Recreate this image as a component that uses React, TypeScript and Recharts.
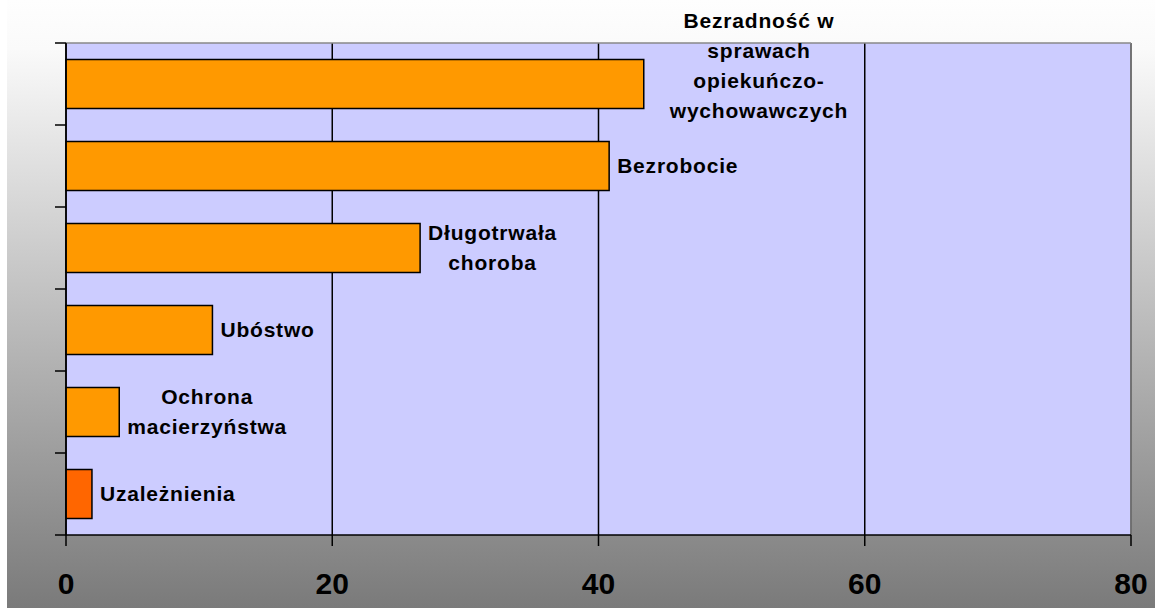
import React from "react";
import {
  Bar,
  BarChart,
  CartesianGrid,
  Cell,
  LabelList,
  ReferenceLine,
  XAxis,
  YAxis,
} from "recharts";

// categories, top → bottom (line breaks as in the original labels)
const CATEGORIES = [
  "Bezradność w\nsprawach\nopiekuńczo-\nwychowawczych",
  "Bezrobocie",
  "Długotrwała\nchoroba",
  "Ubóstwo",
  "Ochrona\nmacierzyństwa",
  "Uzależnienia",
];
const VALUES = [43.4, 40.8, 26.6, 11.0, 4.0, 1.95];
const X_TICKS = [0, 20, 40, 60, 80];

const BAR_COLORS = ["#FF9900", "#FF9900", "#FF9900", "#FF9900", "#FF9900", "#FF6600"];

const FONT = '"Liberation Sans", Arial, sans-serif';
const W = 1148;
const H = 608;
const MARGIN = { top: 43, right: 24, bottom: 0, left: 0 };
const X_AXIS_H = 73;
const Y_AXIS_W = 59;
const PLOT_H = H - MARGIN.top - MARGIN.bottom - X_AXIS_H;
const HALF_BAND = PLOT_H / CATEGORIES.length / 2;

const LABEL_SIZE = 21;
const LABEL_SPACING = 0.8;
const LINE_H = 30;
// the top label is pushed up and right in the original
const LABEL_NUDGE: Record<number, { dx: number; dy: number }> = {
  0: { dx: 18, dy: -18 },
};

const data = CATEGORIES.map((name, i) => ({ name, value: VALUES[i], idx: i }));

let ctx: CanvasRenderingContext2D | null = null;
function measure(s: string) {
  if (!ctx) {
    ctx = document.createElement("canvas").getContext("2d");
  }
  if (!ctx) return s.length * 11;
  ctx.font = `bold ${LABEL_SIZE}px ${FONT}`;
  return ctx.measureText(s).width + s.length * LABEL_SPACING;
}

function BarLabel(props: any) {
  const { x, y, width, height, value } = props;
  const idx = CATEGORIES.indexOf(value);
  const lines = String(value).split("\n");
  const w = Math.max(...lines.map(measure));
  const nudge = LABEL_NUDGE[idx] ?? { dx: 0, dy: 0 };
  const cx = Number(x) + Number(width) + 8 + w / 2 + nudge.dx;
  const cy = Number(y) + Number(height) / 2 + nudge.dy;
  const top = cy - ((lines.length - 1) * LINE_H) / 2;
  return (
    <text
      textAnchor="middle"
      fontFamily={FONT}
      fontWeight="bold"
      fontSize={LABEL_SIZE}
      letterSpacing={LABEL_SPACING}
      fill="#000"
    >
      {lines.map((l, i) => (
        <tspan key={i} x={cx} y={top + i * LINE_H} dy="0.35em">
          {l}
        </tspan>
      ))}
    </text>
  );
}

// Excel puts the category ticks between the bars, not at their centres
function RowTick(props: any) {
  const { x, y, index } = props;
  const ax = Number(x);
  const cy = Number(y);
  const last = index === CATEGORIES.length - 1;
  return (
    <g stroke="#000" strokeWidth={1.5}>
      <line x1={ax - 11} x2={ax} y1={cy - HALF_BAND} y2={cy - HALF_BAND} />
      {last && <line x1={ax - 11} x2={ax} y1={cy + HALF_BAND} y2={cy + HALF_BAND} />}
    </g>
  );
}

export default function App() {
  return (
    <div
      style={{
        position: "absolute",
        left: 7,
        top: 0,
        width: W,
        height: H,
        background:
          "linear-gradient(to bottom, #FEFEFE 0%, #FAFAFA 8%, #7A7A7A 100%)",
      }}
    >
      <BarChart
        width={W}
        height={H}
        data={data}
        layout="vertical"
        barCategoryGap="20%"
        margin={MARGIN}
      >
        <CartesianGrid
          horizontal={false}
          fill="#CCCCFF"
          fillOpacity={1}
          stroke="#000"
          strokeWidth={1.5}
        />
        {/* grey top edge of the plot area */}
        <CartesianGrid
          vertical={false}
          horizontalPoints={[MARGIN.top]}
          stroke="#888"
          strokeWidth={1.5}
        />
        <XAxis
          type="number"
          domain={[0, 80]}
          ticks={X_TICKS}
          height={X_AXIS_H}
          tickSize={11}
          tickMargin={27}
          axisLine={{ stroke: "#000", strokeWidth: 1.5 }}
          tickLine={{ stroke: "#000", strokeWidth: 1.5 }}
          tick={{ fill: "#000", fontSize: 30, fontWeight: "bold", fontFamily: FONT }}
        />
        <YAxis
          type="category"
          dataKey="name"
          width={Y_AXIS_W}
          tickLine={false}
          tickSize={0}
          tickMargin={0}
          tick={RowTick}
          interval={0}
          axisLine={{ stroke: "#000", strokeWidth: 1.5 }}
        />
        <ReferenceLine x={80} stroke="#888" strokeWidth={1.5} />
        <Bar dataKey="value" stroke="#000" strokeWidth={1.5} isAnimationActive={false}>
          {data.map((d) => (
            <Cell key={d.idx} fill={BAR_COLORS[d.idx]} />
          ))}
          <LabelList dataKey="name" content={BarLabel} />
        </Bar>
      </BarChart>
    </div>
  );
}
